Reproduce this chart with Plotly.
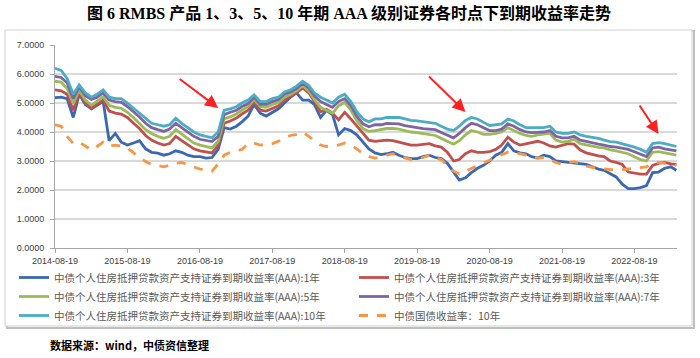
import pandas as pd
import plotly.graph_objects as go

# ---- data (monthly readings, 2014-08-19 .. 2023-03-19) ----
dates = pd.date_range(start="2014-08-19", periods=104, freq=pd.DateOffset(months=1))

y1 = [5.18, 5.2, 5.15, 4.5, 5.3, 4.95, 4.8, 4.92, 5.05, 3.7,
      3.95, 3.65, 3.55, 3.62, 3.7, 3.42, 3.3, 3.27, 3.2, 3.25,
      3.35, 3.3, 3.2, 3.15, 3.15, 3.1, 3.12, 3.4, 4.15, 4.1,
      4.2, 4.35, 4.55, 4.95, 4.65, 4.55, 4.68, 4.8, 5.0, 5.2,
      5.35, 5.1, 5.1, 4.95, 4.5, 4.75, 4.6, 3.9, 4.12, 4.05,
      3.9, 3.65, 3.42, 3.28, 3.22, 3.25, 3.3, 3.2, 3.12, 3.08,
      3.08, 3.15, 3.2, 3.12, 3.08, 2.92, 2.6, 2.34, 2.42, 2.6,
      2.75, 2.85, 3.0, 3.2, 3.3, 3.6, 3.35, 3.28, 3.25, 3.15,
      3.1, 3.2, 3.15, 3.0, 2.98, 2.95, 2.92, 2.9, 2.88, 2.8,
      2.72, 2.68, 2.55, 2.45, 2.2, 2.05, 2.05, 2.08, 2.15, 2.6,
      2.62, 2.75, 2.8, 2.68]

y3 = [5.45, 5.42, 5.3, 4.75, 5.38, 5.0, 4.82, 4.95, 5.1, 4.72,
      4.65, 4.62, 4.5, 4.3, 4.12, 3.88, 3.72, 3.62, 3.55, 3.6,
      3.85, 3.7, 3.55, 3.42, 3.35, 3.32, 3.28, 3.55, 4.3, 4.38,
      4.48, 4.62, 4.75, 5.05, 4.75, 4.72, 4.82, 4.9, 5.1, 5.22,
      5.35, 5.52, 5.35, 5.05, 4.7, 4.78, 4.65, 4.42, 4.68, 4.45,
      4.2, 3.95, 3.72, 3.68, 3.7, 3.72, 3.7, 3.65, 3.6, 3.55,
      3.55, 3.58, 3.6, 3.52, 3.48, 3.3, 3.0, 3.05, 3.25, 3.35,
      3.3, 3.3, 3.32, 3.4, 3.55, 3.82, 3.65, 3.55, 3.6, 3.65,
      3.68, 3.62, 3.52, 3.48, 3.55, 3.6, 3.58, 3.38, 3.28, 3.22,
      3.18, 3.15, 3.0, 2.95, 2.88, 2.62, 2.58, 2.55, 2.55, 2.85,
      2.92, 2.95, 2.9, 2.88]

y5 = [5.75, 5.72, 5.5, 4.98, 5.45, 5.1, 4.92, 5.05, 5.22, 4.92,
      4.85, 4.82, 4.68, 4.5, 4.3, 4.08, 3.95, 3.85, 3.78, 3.85,
      4.08, 3.92, 3.78, 3.62, 3.55, 3.5, 3.45, 3.68, 4.45, 4.52,
      4.62, 4.75, 4.88, 5.12, 4.88, 4.85, 4.95, 5.02, 5.2, 5.3,
      5.42, 5.6, 5.42, 5.12, 4.85, 4.75, 4.65, 4.9, 5.02, 4.75,
      4.4, 4.12, 4.02, 4.05, 4.08, 4.12, 4.12, 4.1, 4.05, 4.0,
      3.98, 3.95, 3.92, 3.88, 3.78, 3.68, 3.58, 3.7, 3.9, 4.05,
      4.0, 3.92, 3.92, 3.95, 4.0, 4.15, 4.05, 3.95, 3.88, 3.85,
      3.9, 3.92, 3.95, 3.72, 3.65, 3.68, 3.75, 3.6, 3.55, 3.5,
      3.47, 3.45, 3.38, 3.35, 3.3, 3.25, 3.15, 3.05, 3.0, 3.3,
      3.32, 3.28, 3.22, 3.2]

y7 = [5.92, 5.88, 5.7, 5.15, 5.55, 5.25, 5.12, 5.2, 5.35, 5.1,
      5.05, 5.02, 4.88, 4.7, 4.52, 4.3, 4.15, 4.08, 4.02, 4.1,
      4.3, 4.15, 4.0, 3.85, 3.75, 3.72, 3.67, 3.85, 4.6, 4.68,
      4.75, 4.88, 4.98, 5.2, 4.95, 4.95, 5.05, 5.12, 5.3, 5.38,
      5.5, 5.68, 5.52, 5.25, 5.05, 4.95, 4.85, 5.05, 5.15, 4.9,
      4.55, 4.28, 4.18, 4.25, 4.25, 4.3, 4.3, 4.28, 4.22, 4.18,
      4.15, 4.12, 4.1, 4.08, 3.98, 3.88, 3.8, 3.95, 4.15, 4.3,
      4.25, 4.15, 4.05, 4.05, 4.1, 4.28, 4.2, 4.08, 4.0, 3.98,
      4.0, 4.0, 4.05, 3.85, 3.8, 3.8, 3.85, 3.72, 3.68, 3.62,
      3.58, 3.55, 3.5, 3.48, 3.45, 3.4, 3.32, 3.22, 3.15, 3.45,
      3.48, 3.42, 3.38, 3.35]

y10 = [6.2, 6.12, 5.85, 5.3, 5.62, 5.35, 5.2, 5.3, 5.45, 5.2,
       5.15, 5.15, 5.0, 4.82, 4.65, 4.45, 4.3, 4.25, 4.2, 4.25,
       4.48, 4.3, 4.15, 4.0, 3.9, 3.85, 3.8, 4.0, 4.75, 4.8,
       4.87, 5.0, 5.1, 5.28, 5.05, 5.05, 5.15, 5.2, 5.38, 5.45,
       5.58, 5.75, 5.6, 5.35, 5.2, 5.1, 5.0, 5.2, 5.3, 5.05,
       4.7, 4.45, 4.35, 4.45, 4.45, 4.5, 4.5, 4.5, 4.45, 4.4,
       4.38, 4.35, 4.32, 4.3, 4.2, 4.1, 4.05, 4.2, 4.4, 4.5,
       4.45, 4.35, 4.22, 4.25, 4.28, 4.45, 4.38, 4.25, 4.15, 4.15,
       4.15, 4.15, 4.2, 4.0, 3.95, 3.95, 4.0, 3.9, 3.85, 3.82,
       3.78, 3.72, 3.67, 3.65, 3.6, 3.55, 3.48, 3.4, 3.3, 3.6,
       3.63, 3.6, 3.55, 3.5]

ygov = [4.25, 4.2, 3.85, 3.6, 3.65, 3.5, 3.38, 3.5, 3.65, 3.5,
        3.55, 3.52, 3.45, 3.28, 3.12, 2.98, 2.88, 2.85, 2.8, 2.85,
        2.92, 2.95, 2.88, 2.8, 2.72, 2.7, 2.65, 2.9, 3.2, 3.3,
        3.35, 3.4, 3.6, 3.62, 3.55, 3.58, 3.6, 3.68, 3.8, 3.88,
        3.92, 4.0, 3.85, 3.7, 3.55, 3.5, 3.52, 3.55, 3.62, 3.55,
        3.42, 3.25, 3.15, 3.1, 3.15, 3.2, 3.25, 3.15, 3.1, 3.05,
        3.08, 3.12, 3.2, 3.1, 3.05, 2.85, 2.65, 2.55, 2.65, 2.75,
        2.85, 2.95, 3.05, 3.15, 3.22, 3.3, 3.28, 3.25, 3.2, 3.12,
        3.1, 3.12, 3.05, 2.95, 2.88, 2.92, 2.98, 2.92, 2.82, 2.78,
        2.75, 2.72, 2.7, 2.68, 2.7, 2.72, 2.75, 2.78, 2.8, 2.92,
        2.95, 2.92, 2.88, 2.85]

series_names = [
    "中债个人住房抵押贷款资产支持证券到期收益率(AAA):1年",
    "中债个人住房抵押贷款资产支持证券到期收益率(AAA):3年",
    "中债个人住房抵押贷款资产支持证券到期收益率(AAA):5年",
    "中债个人住房抵押贷款资产支持证券到期收益率(AAA):7年",
    "中债个人住房抵押贷款资产支持证券到期收益率(AAA):10年",
    "中债国债收益率：10年",
]
x_tickvals = ["2014-08-19", "2015-08-19", "2016-08-19", "2017-08-19", "2018-08-19",
              "2019-08-19", "2020-08-19", "2021-08-19", "2022-08-19"]
y_tickvals = [0, 1, 2, 3, 4, 5, 6, 7]
y_ticktext = ["0.0000", "1.0000", "2.0000", "3.0000", "4.0000", "5.0000", "6.0000", "7.0000"]

title = "图 6 RMBS 产品 1、3、5、10 年期 AAA 级别证券各时点下到期收益率走势"
source = "数据来源：wind，中债资信整理"

colors = ["#3A68B2", "#C0504D", "#9BBB59", "#8064A2", "#4BACC6", "#F79646"]
legend_of = ["legend", "legend2", "legend", "legend2", "legend", "legend2"]

# ---- figure ----
W, H = 700, 358
L, R, T, B = 55, 23, 45, 110
pw, ph = W - L - R, H - T - B


def px(xp):
    return (xp - L) / pw


def py(yp):
    return (H - B - yp) / ph


fig = go.Figure()
for name, ys, c, lg in zip(series_names, [y1, y3, y5, y7, y10, ygov], colors, legend_of):
    fig.add_trace(go.Scatter(
        x=dates, y=ys, mode="lines", name=name, legend=lg,
        line=dict(color=c, width=2.8, dash="dash" if "国债" in name else "solid"),
    ))

tick_font = dict(family="Liberation Sans, Arial, sans-serif", size=9, color="#404040")
leg_font = dict(family="Noto Sans CJK SC, sans-serif", size=10.5, color="#595959")
fig.update_layout(
    width=W, height=H,
    margin=dict(l=L, r=R, t=T, b=B, autoexpand=False),
    paper_bgcolor="white", plot_bgcolor="white",
    font=dict(family="Noto Sans CJK SC, sans-serif"),
    showlegend=True,
    legend=dict(
        orientation="v", x=px(14), y=py(263), xanchor="left", yanchor="top",
        font=leg_font, bgcolor="rgba(0,0,0,0)", tracegroupgap=0,
    ),
    legend2=dict(
        orientation="v", x=px(354), y=py(263), xanchor="left", yanchor="top",
        font=leg_font, bgcolor="rgba(0,0,0,0)", tracegroupgap=0,
    ),
    xaxis=dict(
        type="date", range=["2014-08-19", "2023-03-22"],
        tickvals=x_tickvals, ticktext=x_tickvals,
        showgrid=False, showline=True, linecolor="#A6A6A6", linewidth=1,
        ticks="outside", ticklen=4, tickcolor="#A6A6A6",
        tickfont=tick_font, zeroline=False,
    ),
    yaxis=dict(
        range=[0, 7], tickvals=y_tickvals, ticktext=y_ticktext,
        showgrid=True, gridcolor="#D9D9D9", gridwidth=1.5,
        showline=True, linecolor="#A6A6A6", linewidth=1,
        ticks="outside", ticklen=4, tickcolor="#A6A6A6",
        tickfont=tick_font, zeroline=False, ticklabelstandoff=4,
    ),
    shapes=[
        dict(type="rect", xref="paper", yref="paper", layer="below",
             x0=px(7), x1=px(694), y0=py(328), y1=py(31),
             line=dict(color="#BFBFBF", width=2)),
        dict(type="rect", xref="paper", yref="paper", layer="below",
             x0=px(5), x1=px(692), y0=py(326), y1=py(30),
             line=dict(color="#D0D0D0", width=1), fillcolor="white"),
    ],
    annotations=[
        dict(text="<b>" + title + "</b>", xref="paper", yref="paper",
             x=px(349), y=py(13), xanchor="center", yanchor="middle", showarrow=False,
             font=dict(family="Liberation Serif, Noto Sans CJK SC, serif", size=16, color="black")),
        dict(text="<b>" + source + "</b>", xref="paper", yref="paper",
             x=px(48), y=py(345), xanchor="left", yanchor="middle", showarrow=False,
             font=dict(family="Noto Sans CJK SC, sans-serif", size=11, color="black")),
        dict(x="2016-11-19", y=4.83, xref="x", yref="y", text="", showarrow=True,
             ax=-40, ay=-30, arrowhead=2, arrowsize=1.3, arrowwidth=2, arrowcolor="#FF2020"),
        dict(x="2020-04-19", y=4.69, xref="x", yref="y", text="", showarrow=True,
             ax=-38, ay=-37, arrowhead=2, arrowsize=1.3, arrowwidth=2, arrowcolor="#FF2020"),
        dict(x="2022-12-19", y=3.93, xref="x", yref="y", text="", showarrow=True,
             ax=-20, ay=-30, arrowhead=2, arrowsize=1.3, arrowwidth=2, arrowcolor="#FF2020"),
    ],
)

fig.write_html("out.html", config={"displayModeBar": False},
               post_script="document.body.style.margin='0';document.body.style.overflow='hidden';")
